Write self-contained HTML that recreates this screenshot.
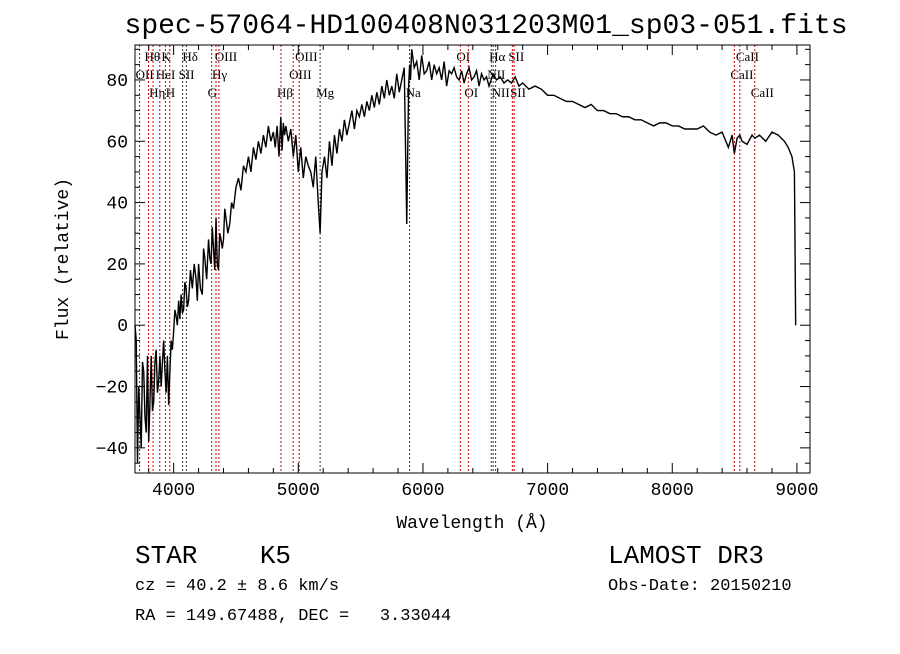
<!DOCTYPE html>
<html><head><meta charset="utf-8"><style>
body{margin:0;background:#fff;}
svg text{font-family:"Liberation Mono",monospace;fill:#000;white-space:pre;}
.ll{font-family:"Liberation Serif",serif;font-size:13px;}
</style></head><body>
<svg id="c" width="900" height="649" xmlns="http://www.w3.org/2000/svg">
<text x="486" y="33" text-anchor="middle" font-size="28" textLength="723">spec-57064-HD100408N031203M01_sp03-051.fits</text>
<g id="lines"></g>
<g id="spec"></g>
<g id="axes"></g>
<text transform="translate(68,259) rotate(-90)" text-anchor="middle" font-size="18">Flux (relative)</text>
<text x="472" y="528" text-anchor="middle" font-size="18">Wavelength (Å)</text>
<text x="135" y="563" font-size="26" font-family="Liberation Serif">STAR    K5</text>
<text x="135" y="590" font-size="17">cz = 40.2 ± 8.6 km/s</text>
<text x="135" y="620" font-size="17">RA = 149.67488, DEC =   3.33044</text>
<text x="608" y="563" font-size="26" font-family="Liberation Serif">LAMOST DR3</text>
<text x="608" y="590" font-size="17">Obs-Date: 20150210</text>
</svg>
<script>
const wl=[3690,3700,3710,3720,3730,3740,3750,3760,3770,3780,3790,3800,3810,3820,3830,3840,3850,3860,3870,3880,3890,3900,3910,3920,3930,3940,3950,3960,3970,3980,3990,4000,4010,4020,4030,4040,4050,4060,4070,4080,4090,4100,4110,4120,4135,4150,4165,4180,4190,4200,4215,4230,4240,4250,4265,4280,4290,4300,4310,4320,4330,4340,4350,4360,4370,4380,4390,4400,4410,4420,4435,4450,4465,4480,4500,4520,4540,4560,4580,4600,4620,4640,4660,4680,4700,4720,4740,4760,4780,4800,4815,4830,4845,4860,4870,4880,4890,4900,4920,4940,4960,4980,5000,5020,5040,5060,5080,5100,5120,5140,5160,5175,5190,5210,5230,5250,5270,5290,5310,5330,5350,5370,5390,5410,5430,5450,5470,5490,5510,5530,5550,5570,5590,5610,5630,5650,5670,5690,5710,5730,5750,5770,5790,5810,5830,5850,5870,5885,5893,5900,5910,5930,5950,5970,5990,6010,6030,6050,6070,6090,6110,6130,6150,6170,6190,6210,6230,6250,6270,6290,6310,6330,6350,6370,6390,6410,6430,6450,6470,6490,6510,6530,6563,6590,6620,6650,6680,6710,6740,6770,6800,6850,6900,6950,7000,7050,7100,7150,7200,7250,7300,7350,7400,7450,7500,7550,7600,7650,7700,7750,7800,7850,7900,7950,8000,8050,8100,8150,8200,8250,8300,8350,8400,8450,8480,8498,8520,8542,8560,8600,8640,8662,8700,8750,8800,8850,8900,8930,8960,8980,8990,9000,9005];
const flux=[0,-5,-45,-20,-30,-40,-12,-15,-30,-35,-10,-38,-25,-10,-28,-25,-12,-8,-22,-18,-10,-20,-12,-5,-15,-22,-10,-26,-15,-5,-8,-2,5,3,0,8,2,10,4,5,14,12,6,8,18,12,20,15,8,20,12,10,25,22,15,28,22,20,32,25,18,35,20,18,30,28,25,28,38,35,30,33,40,38,45,48,44,52,50,55,50,58,54,60,56,62,58,65,60,63,58,65,55,68,57,66,62,65,60,64,55,62,50,58,48,55,52,50,45,55,40,30,50,55,48,60,52,62,56,64,60,67,62,66,70,64,70,68,72,68,73,70,75,71,76,72,78,74,80,75,78,74,82,76,80,84,33,78,85,80,90,84,86,80,88,82,83,86,80,85,82,84,80,86,78,83,82,84,81,80,83,79,82,84,80,81,83,78,82,80,81,78,82,80,81,79,80,79,81,78,79,77,78,77,75,75,74,73,73,72,71,72,70,70,69,69,68,68,67,67,66,65,66,66,65,65,64,64,64,65,63,62,63,58,62,56,61,62,60,59,62,61,62,60,63,62,60,58,55,50,0];
const lineWl=[3727,3798,3835,3889,3934,3969,4072,4102,4305,4340,4363,4861,4959,5007,5175,5893,6300,6364,6548,6563,6583,6717,6731,8498,8542,8662];
const lineLab=["OII","Hθ","Hη","HeI","K","H","SII","Hδ","G","Hγ","OIII","Hβ","OIII","OIII","Mg","Na","OI","OI","NII","Hα","NII","SII","SII","CaII","CaII","CaII"];
const lineRow=[1,0,2,1,0,2,1,0,2,1,0,2,1,0,2,2,0,2,1,0,2,0,2,1,0,2];
const red=[1,1,1,1,1,1,0,0,1,1,1,1,1,1,0,0,1,1,0,0,0,1,1,1,1,1];
const xTicks=[4000,5000,6000,7000,8000,9000];
const yTicks=[-40,-20,0,20,40,60,80];
const X0=3690,X1=9105,Y0=-48.2,Y1=91.4,L=135,R=810,T=45,B=473;
const sx=w=>L+(w-X0)/(X1-X0)*(R-L), sy=f=>B-(f-Y0)/(Y1-Y0)*(B-T);
const NS="http://www.w3.org/2000/svg";
function mk(t,a,p){const e=document.createElementNS(NS,t);for(const k in a)e.setAttribute(k,a[k]);p.appendChild(e);return e;}
const gl=document.getElementById('lines'),gs=document.getElementById('spec'),ga=document.getElementById('axes');
lineWl.forEach((w,i)=>{const x=sx(w);
 const l=mk('line',{x1:x,x2:x,y1:T,y2:B,stroke:red[i]?'#c00':'#333','stroke-width':1,'stroke-dasharray':'2,2'},gl);
 
 
 const t=mk('text',{x:x-4,y:T+16+lineRow[i]*18,class:'ll'},gl);t.textContent=lineLab[i];
 
 
});
const p=mk('polyline',{points:wl.map((w,i)=>sx(w)+','+sy(flux[i])).join(' '),fill:'none',stroke:'#000','stroke-width':1.4},gs);


const fr=mk('rect',{x:L,y:T,width:R-L,height:B-T,fill:'none',stroke:'#000','stroke-width':1},ga);


for(let w=3800;w<=9100;w+=200){const x=sx(w),big=w%1000==0,h=big?10:5;
 mk('line',{x1:x,x2:x,y1:B,y2:B-h,stroke:'#000'},ga);mk('line',{x1:x,x2:x,y1:T,y2:T+h,stroke:'#000'},ga);}
xTicks.forEach(w=>{const t=mk('text',{x:sx(w),y:B+22,'text-anchor':'middle','font-size':18},ga);t.textContent=w;
 
 });
for(let f=-45;f<=90;f+=5){const y=sy(f),big=f%20==0,h=big?10:5;
 mk('line',{x1:L,x2:L+h,y1:y,y2:y,stroke:'#000'},ga);mk('line',{x1:R,x2:R-h,y1:y,y2:y,stroke:'#000'},ga);}
yTicks.forEach(f=>{const t=mk('text',{x:L-7,y:sy(f)+6,'text-anchor':'end','font-size':18},ga);t.textContent=f<0?'−'+(-f):f;
 
 });
</script>
</body></html>
